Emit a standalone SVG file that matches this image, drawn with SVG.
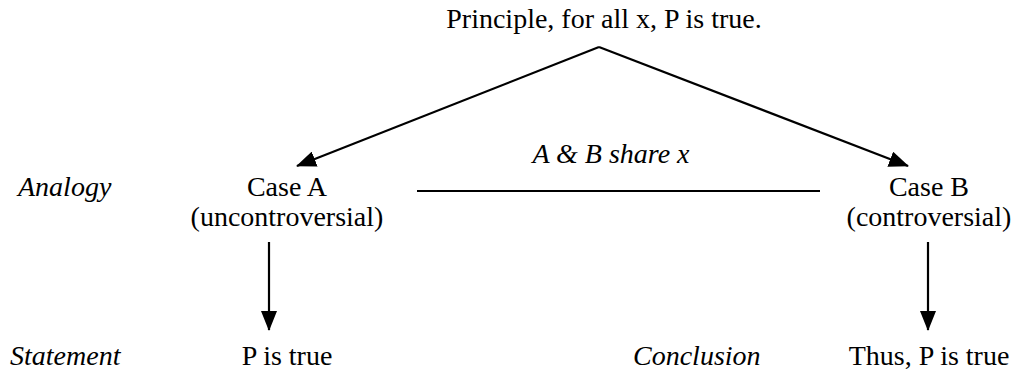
<svg xmlns="http://www.w3.org/2000/svg" width="1016" height="370" viewBox="0 0 1016 370">
<style>
text{font-family:'Liberation Serif','DejaVu Serif',serif;font-size:28px;fill:#000}
.i{font-style:italic}
.c{text-anchor:middle}
.ln{stroke:#000;stroke-width:2.2;fill:none}
</style>
<defs>
<marker id="ah" markerUnits="userSpaceOnUse" markerWidth="20" markerHeight="16" refX="19" refY="8" orient="auto">
<path d="M0,0 L20,8 L0,16 z" fill="#000"/>
</marker>
</defs>
<rect width="1016" height="370" fill="#fff"/>
<g id="principle"><text class="c" x="604" y="28" font-family="Liberation Serif, serif">Principle, for all x, P is true.</text></g>
<g id="caseA"><text class="c" x="287" y="196" font-family="Liberation Serif, serif">Case A</text><text class="c" x="287" y="226" font-family="Liberation Serif, serif">(uncontroversial)</text></g>
<g id="caseB"><text class="c" x="929" y="196" font-family="Liberation Serif, serif">Case B</text><text class="c" x="929" y="226" font-family="Liberation Serif, serif">(controversial)</text></g>
<g id="share"><text class="i c" x="611" y="163" font-family="Liberation Serif, serif">A &amp; B share x</text></g>
<g id="analogy"><text class="i" x="18" y="196" font-family="Liberation Serif, serif">Analogy</text></g>
<g id="statement"><text class="i" x="10" y="365" font-family="Liberation Serif, serif">Statement</text></g>
<g id="ptrue"><text class="c" x="287" y="365" font-family="Liberation Serif, serif">P is true</text></g>
<g id="conclusion"><text class="i" x="633" y="365" font-family="Liberation Serif, serif">Conclusion</text></g>
<g id="thus"><text class="c" x="929" y="365" font-family="Liberation Serif, serif">Thus, P is true</text></g>
<g id="connectors">
<line class="ln" x1="599" y1="47" x2="297" y2="166" marker-end="url(#ah)"/>
<line class="ln" x1="599" y1="47" x2="908" y2="166" marker-end="url(#ah)"/>
<line class="ln" x1="417" y1="191" x2="820" y2="191"/>
<line class="ln" x1="269" y1="242" x2="269" y2="330" marker-end="url(#ah)"/>
<line class="ln" x1="928" y1="242" x2="928" y2="330" marker-end="url(#ah)"/>
</g>
</svg>
